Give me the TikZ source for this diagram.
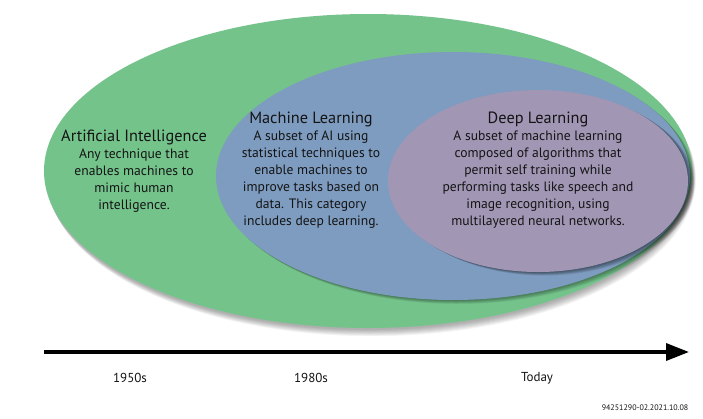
\documentclass[tikz,border=0pt]{standalone}
\usepackage{fontspec}
\setmainfont{PT Sans}
\usetikzlibrary{arrows.meta}
\definecolor{aigreen}{RGB}{116,195,139}
\definecolor{mlblue}{RGB}{126,156,192}
\definecolor{dlpurple}{RGB}{161,151,181}
\newcommand\myttlfont{\fontsize{16.3}{17}\selectfont}
\begin{document}
\begin{tikzpicture}[x=1pt,y=-1pt,
  body/.style={align=center,text=black!92,font=\fontsize{13.6}{17}\selectfont},
  yearlbl/.style={font=\fontsize{13}{14}\selectfont,text=black!92}]
\useasboundingbox (0,0) rectangle (703,418);
\fill[white] (0,0) rectangle (703,418);
% green ellipse shadow + body
\foreach \i in {1,...,8}
  \fill[black,opacity=0.045] (368+0.5*\i,172+0.9*\i) ellipse [x radius=324, y radius=157];
\fill[aigreen] (368,171) ellipse [x radius=324, y radius=157];
% blue ellipse
\foreach \i in {1,...,8}
  \fill[black,opacity=0.05] (453+0.6*\i,176+0.5*\i) ellipse [x radius=237, y radius=124];
\fill[mlblue] (453,176) ellipse [x radius=237, y radius=124];
% purple ellipse
\foreach \i in {1,...,8}
  \fill[black,opacity=0.065] (538+0.8*\i,181+0.45*\i) ellipse [x radius=150, y radius=91];
\fill[dlpurple] (538,181) ellipse [x radius=150, y radius=91];
% texts
\node[body] (ai) at (134,171) {{\myttlfont Artificial Intelligence}\\Any technique that\\enables machines to\\mimic human\\intelligence.};
\node[body] (ml) at (311,170) {{\myttlfont Machine Learning}\\A subset of AI using\\statistical techniques to\\enable machines to\\improve tasks based on\\data. This category\\includes deep learning.};
\node[body] (dl) at (538,170) {{\myttlfont Deep Learning}\\A subset of machine learning\\composed of algorithms that\\permit self training while\\performing tasks like speech and\\image recognition, using\\multilayered neural networks.};
% timeline
\coordinate (tl) at (44,352);
\coordinate (tr) at (689,352);
\draw[line width=3.5pt,-{Triangle[length=23pt,width=17pt]}] (tl) -- (tr);
\node[yearlbl] (y1) at (130,378) {1950s};
\node[yearlbl] (y2) at (311,378) {1980s};
\node[yearlbl] (y3) at (537,378) {Today};
\node[font=\fontsize{8}{9}\selectfont,text=black!92] (id) at (645,408) {94251290-02.2021.10.08};
\end{tikzpicture}
\end{document}
